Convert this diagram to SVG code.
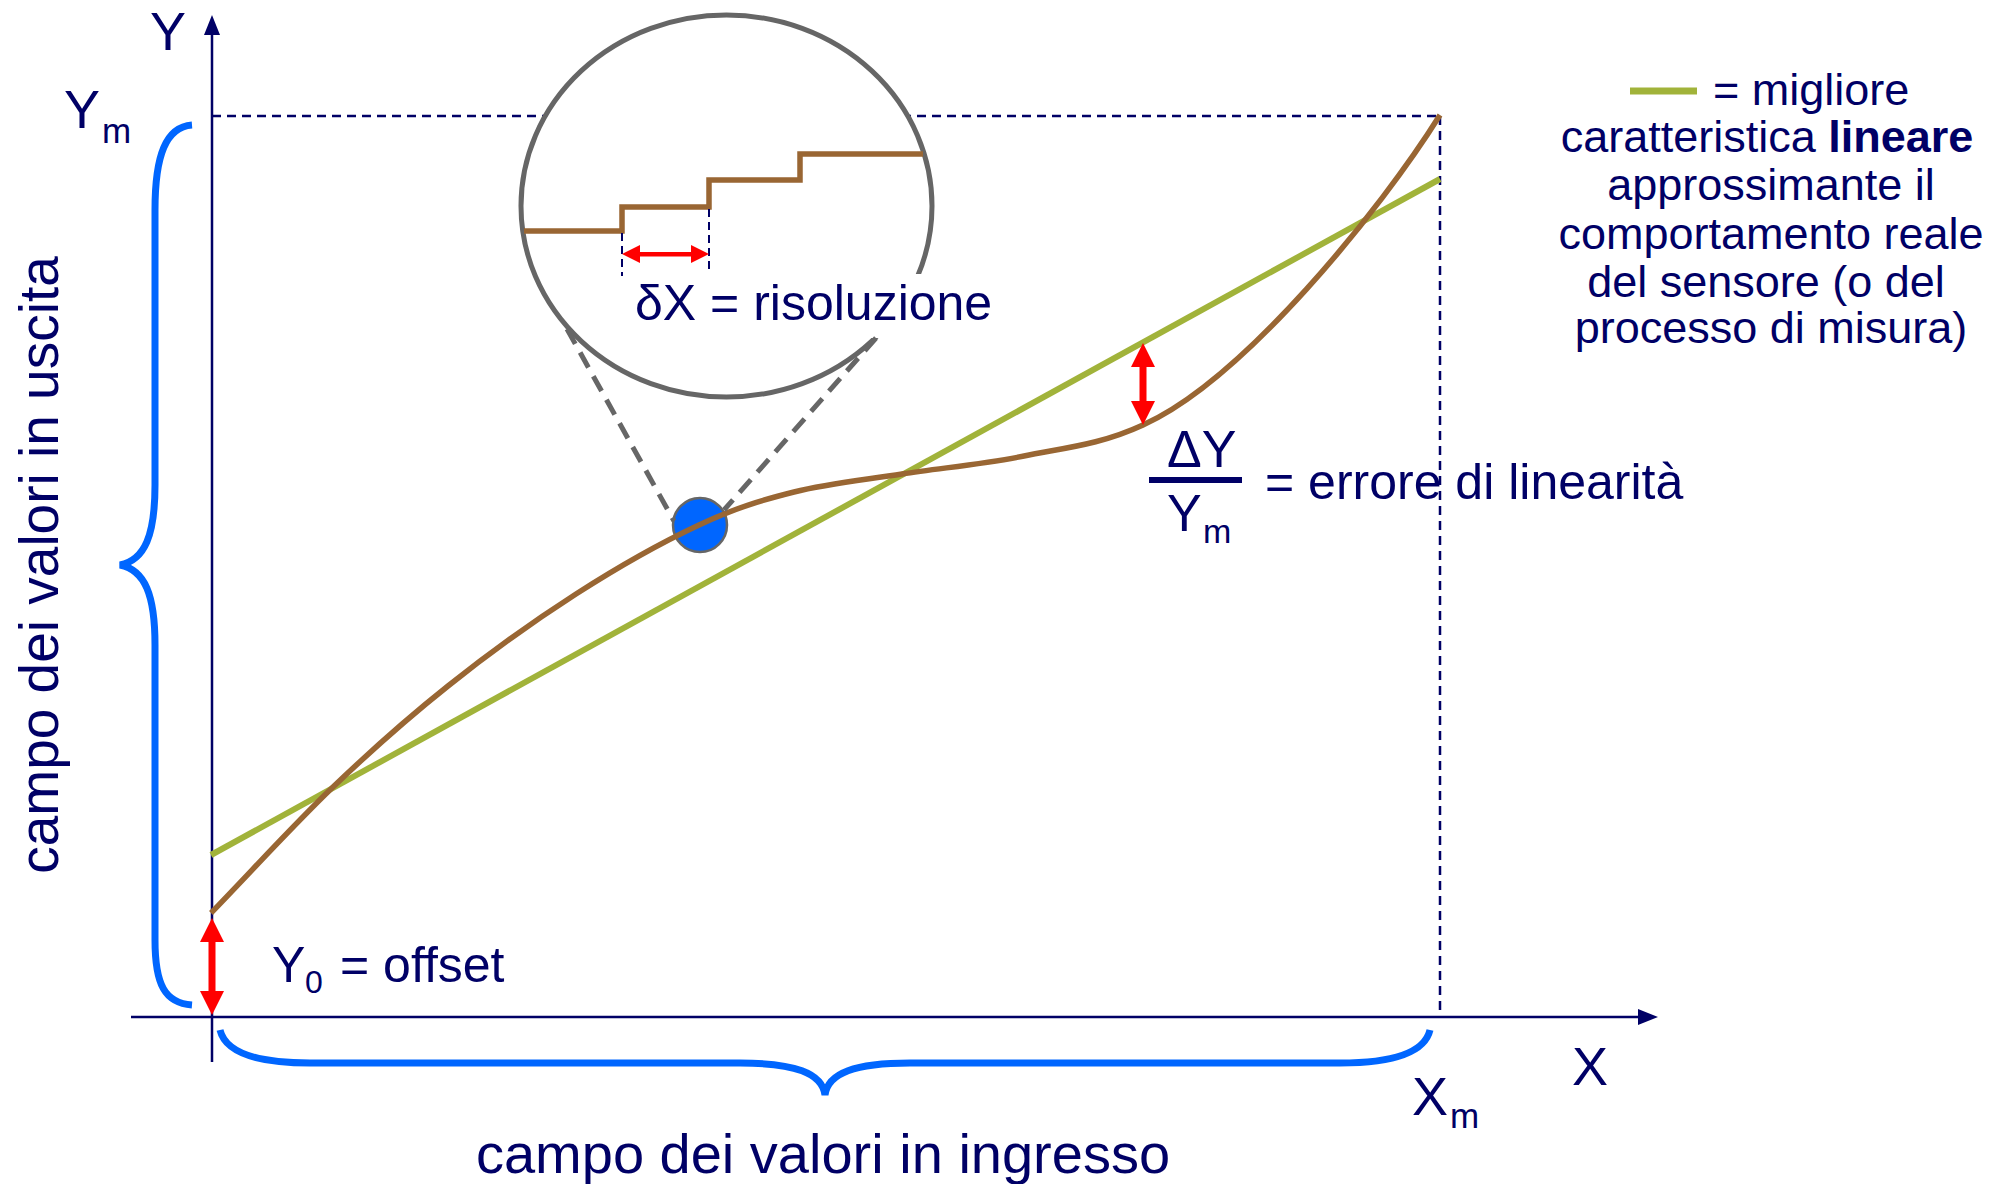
<svg xmlns="http://www.w3.org/2000/svg" width="2007" height="1184" viewBox="0 0 2007 1184">
<defs>
<style>
.t{font-family:"Liberation Sans",Arial,sans-serif;fill:#000066}
.axis{stroke:#000066;stroke-width:2.5;fill:none}
.guide{stroke:#000066;stroke-width:2.5;stroke-dasharray:9,6;fill:none}
.brace{stroke:#0066ff;stroke-width:7;fill:none}
.brown{stroke:#996633;stroke-width:5.5;fill:none}
.green{stroke:#a1b33a;stroke-width:6;fill:none}
.zoomline{stroke:#666666;stroke-width:5;stroke-dasharray:17,10;fill:none}
.red{fill:#ff0000}
.lg{font-size:45px}
</style>
</defs>
<rect width="2007" height="1184" fill="#ffffff"/>

<g id="guides">
<line class="guide" x1="212" y1="116" x2="1440" y2="116"/>
<line class="guide" x1="1440" y1="116" x2="1440" y2="1017"/>
</g>

<g id="axes">
<line class="axis" x1="212" y1="1062" x2="212" y2="30"/>
<polygon points="212,15 204,35 220,35" fill="#000066"/>
<line class="axis" x1="131" y1="1017" x2="1642" y2="1017"/>
<polygon points="1658,1017 1638,1009 1638,1025" fill="#000066"/>
<text class="t" x="150" y="50" font-size="54">Y</text>
<text class="t" x="1572" y="1085" font-size="54">X</text>
<text class="t" x="64" y="128" font-size="54">Y</text>
<text class="t" x="102" y="143" font-size="35">m</text>
<text class="t" x="1412" y="1115" font-size="54">X</text>
<text class="t" x="1450" y="1128" font-size="35">m</text>
</g>

<g id="output-range">
<path class="brace" d="M192,125 C166,127 155,155 155,210 L155,485 C155,535 145,560 120,565 C145,570 155,595 155,645 L155,940 C155,985 165,1003 192,1005"/>
<text class="t" font-size="55" text-anchor="middle" transform="translate(58,565) rotate(-90)">campo dei valori in uscita</text>
</g>

<g id="input-range">
<path class="brace" d="M220,1030 C226,1055 262,1063 310,1063 L740,1063 C795,1063 822,1073 825,1095 C828,1073 855,1063 910,1063 L1340,1063 C1388,1063 1424,1055 1430,1030"/>
<text class="t" x="823" y="1173" font-size="56" text-anchor="middle">campo dei valori in ingresso</text>
</g>

<g id="linear-fit">
<line class="green" x1="211" y1="855" x2="1440" y2="179"/>
</g>

<g id="zoom-point">
<circle cx="700" cy="525" r="27" fill="#0066ff" stroke="#666666" stroke-width="2.5"/>
</g>

<g id="real-curve">
<path class="brown" d="M211,913 C251.7,871 293.5,824.8 333,787 C372.5,749.2 407.5,718.2 448,686 C488.5,653.8 534.2,620.8 576,594 C617.8,567.2 662.7,542 699,525 C735.3,508 760.2,500.5 794,492 C827.8,483.5 863.7,480 902,474 C940.3,468 983.8,464.2 1024,456 C1064.2,447.8 1100.3,444.8 1143,425 C1243,380 1380,211 1440,115"/>
</g>

<g id="magnifier">
<ellipse cx="726.5" cy="206" rx="205.5" ry="191" fill="#ffffff" stroke="#666666" stroke-width="5"/>
<path class="brown" d="M524,231 H622 V207 H709 V180 H800 V154 H923"/>
<line x1="622" y1="233" x2="622" y2="276" stroke="#000066" stroke-width="2" stroke-dasharray="8,5"/>
<line x1="709" y1="209" x2="709" y2="276" stroke="#000066" stroke-width="2" stroke-dasharray="8,5"/>
<rect x="628" y="274" width="368" height="64" fill="#ffffff"/>
<text class="t" x="635" y="320" font-size="50">δX = risoluzione</text>
</g>

<g id="connectors">
<line class="zoomline" x1="567" y1="329" x2="674" y2="521"/>
<line class="zoomline" x1="876" y1="338" x2="724" y2="510"/>
<g id="arrow-resolution">
<rect x="636" y="252" width="59" height="4.5" class="red"/>
<polygon class="red" points="622,254 640,245 640,263"/>
<polygon class="red" points="709,254 691,245 691,263"/>
</g>
<g id="arrow-linearity">
<rect x="1139.5" y="364" width="7" height="40" class="red"/>
<polygon class="red" points="1143,343 1131,367 1155,367"/>
<polygon class="red" points="1143,425 1131,401 1155,401"/>
</g>
<g id="arrow-offset">
<rect x="208.5" y="938" width="7" height="58" class="red"/>
<polygon class="red" points="212,918 200,942 224,942"/>
<polygon class="red" points="212,1015 200,991 224,991"/>
</g>
</g>

<g id="offset-label">
<text class="t" x="272" y="982" font-size="50">Y</text>
<text class="t" x="305" y="993" font-size="32">0</text>
<text class="t" x="340" y="982" font-size="50">= offset</text>
</g>

<g id="linearity-label">
<text class="t" x="1167" y="467" font-size="52">ΔY</text>
<rect x="1149" y="477" width="93" height="6" fill="#000066"/>
<text class="t" x="1167" y="531" font-size="52">Y</text>
<text class="t" x="1203" y="543" font-size="34">m</text>
<text class="t" x="1265" y="499" font-size="50">= errore di linearità</text>
</g>

<g id="legend">
<line x1="1630" y1="91" x2="1697" y2="91" stroke="#a1b33a" stroke-width="7"/>
<text class="t lg" x="1713" y="105">= migliore</text>
<text class="t lg" x="1767" y="152" text-anchor="middle">caratteristica <tspan font-weight="bold">lineare</tspan></text>
<text class="t lg" x="1771" y="200" text-anchor="middle">approssimante il</text>
<text class="t lg" x="1771" y="249" text-anchor="middle">comportamento reale</text>
<text class="t lg" x="1766" y="297" text-anchor="middle">del sensore (o del</text>
<text class="t lg" x="1771" y="343" text-anchor="middle">processo di misura)</text>
</g>
</svg>
